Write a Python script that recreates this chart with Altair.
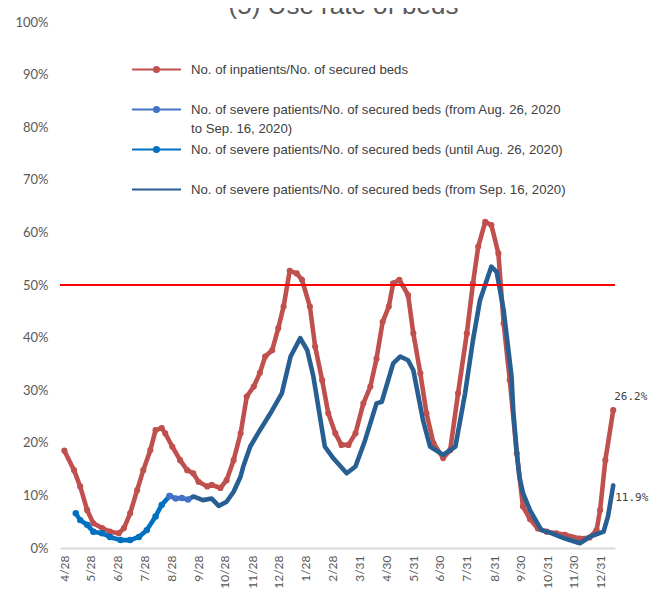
import json
import altair as alt
import pandas as pd

TITLE = "(5) Use rate of beds"

SERIES_KEYS = ["A", "B", "C", "D"]
SERIES_LABELS = [
    ["No. of inpatients/No. of secured beds", ""],
    ["No. of severe patients/No. of secured beds (from Aug. 26, 2020", "to Sep. 16, 2020)"],
    ["No. of severe patients/No. of secured beds (until Aug. 26, 2020)", ""],
    ["No. of severe patients/No. of secured beds (from Sep. 16, 2020)", ""],
]
SERIES_COLORS = ["#C0504D", "#4472C4", "#0070C0", "#275F93"]

THRESHOLD = [50]

TICK_DATES = [
    (2020, 4, 28), (2020, 5, 28), (2020, 6, 28), (2020, 7, 28), (2020, 8, 28),
    (2020, 9, 28), (2020, 10, 28), (2020, 11, 28), (2020, 12, 28), (2021, 1, 28),
    (2021, 2, 28), (2021, 3, 31), (2021, 4, 30), (2021, 5, 31), (2021, 6, 30),
    (2021, 7, 31), (2021, 8, 31), (2021, 9, 30), (2021, 10, 31), (2021, 11, 30),
    (2021, 12, 31),
]
X_DOMAIN = [(2020, 4, 23), (2022, 1, 16)]
Y_TICKS = list(range(0, 101, 10))

# No. of inpatients / No. of secured beds (%)
inpatient_dates = [
    "2020-04-28", "2020-05-09", "2020-05-16", "2020-05-24", "2020-05-31", "2020-06-10",
    "2020-06-19", "2020-06-29", "2020-07-05", "2020-07-12", "2020-07-20", "2020-07-27",
    "2020-08-04", "2020-08-10", "2020-08-17", "2020-08-21", "2020-08-29", "2020-09-07",
    "2020-09-15", "2020-09-22", "2020-09-28", "2020-10-08", "2020-10-13", "2020-10-23",
    "2020-10-30", "2020-11-07", "2020-11-15", "2020-11-22", "2020-11-30", "2020-12-07",
    "2020-12-13", "2020-12-21", "2020-12-28", "2021-01-03", "2021-01-10", "2021-01-18",
    "2021-01-24", "2021-02-02", "2021-02-08", "2021-02-16", "2021-02-23", "2021-03-03",
    "2021-03-10", "2021-03-18", "2021-03-26", "2021-04-04", "2021-04-12", "2021-04-19",
    "2021-04-26", "2021-05-03", "2021-05-08", "2021-05-15", "2021-05-25", "2021-05-31",
    "2021-06-08", "2021-06-15", "2021-06-23", "2021-07-04", "2021-07-12", "2021-07-21",
    "2021-07-31", "2021-08-07", "2021-08-13", "2021-08-21", "2021-08-28", "2021-09-05",
    "2021-09-11", "2021-09-18", "2021-09-26", "2021-10-03", "2021-10-11", "2021-10-20",
    "2021-10-30", "2021-11-10", "2021-11-20", "2021-12-07", "2021-12-18", "2021-12-26",
    "2021-12-30", "2022-01-05", "2022-01-14",
]
inpatient_values = [
    18.5, 14.8, 11.7, 7.2, 4.7, 3.8,
    3.1, 2.8, 3.8, 6.6, 11.0, 14.8,
    18.6, 22.4, 22.8, 21.8, 19.3, 16.7,
    14.8, 14.2, 12.6, 11.7, 12.0, 11.4,
    12.9, 16.7, 21.8, 28.8, 30.7, 33.3,
    36.4, 37.6, 41.8, 45.9, 52.7, 52.2,
    51.0, 45.9, 38.3, 31.9, 25.6, 21.8,
    19.6, 19.6, 21.8, 27.5, 30.7, 36.0,
    43.0, 45.9, 50.3, 51.0, 48.1, 40.8,
    33.2, 25.6, 19.9, 17.1, 18.6, 29.4,
    40.8, 50.3, 57.3, 62.0, 61.4, 56.0,
    42.7, 31.9, 18.0, 7.9, 5.5, 3.7,
    3.1, 2.8, 2.5, 1.8, 2.0, 3.4,
    7.2, 16.7, 26.2,
]

# No. of severe patients / No. of secured beds (until Aug. 26, 2020)
severe_early_dates = [
    "2020-05-11", "2020-05-16", "2020-05-24", "2020-05-31", "2020-06-10", "2020-06-19",
    "2020-07-01", "2020-07-12", "2020-07-22", "2020-07-31", "2020-08-10", "2020-08-17",
    "2020-08-26",
]
severe_early_values = [6.6, 5.3, 4.4, 3.1, 2.8, 2.1, 1.5, 1.5, 2.1, 3.4, 6.0, 8.2, 9.9]

# (from Aug. 26, 2020 to Sep. 16, 2020)
severe_mid_dates = ["2020-08-26", "2020-09-02", "2020-09-09", "2020-09-16"]
severe_mid_values = [9.9, 9.4, 9.5, 9.2]

# (from Sep. 16, 2020)
severe_late_dates = [
    "2020-09-16", "2020-09-22", "2020-10-03", "2020-10-13", "2020-10-21", "2020-10-30",
    "2020-11-07", "2020-11-15", "2020-11-18", "2020-11-26", "2020-12-07", "2020-12-19",
    "2021-01-01", "2021-01-11", "2021-01-22", "2021-01-30", "2021-02-06", "2021-02-19",
    "2021-03-01", "2021-03-16", "2021-03-26", "2021-04-06", "2021-04-19", "2021-04-25",
    "2021-05-08", "2021-05-16", "2021-05-25", "2021-05-31", "2021-06-11", "2021-06-19",
    "2021-07-04", "2021-07-18", "2021-07-29", "2021-08-07", "2021-08-15", "2021-08-28",
    "2021-09-03", "2021-09-11", "2021-09-20", "2021-09-22", "2021-09-26", "2021-09-29",
    "2021-10-03", "2021-10-11", "2021-10-24", "2021-11-05", "2021-11-20", "2021-12-07",
    "2021-12-18", "2022-01-03", "2022-01-08", "2022-01-14",
]
severe_late_values = [
    9.2, 9.8, 9.1, 9.4, 8.0, 8.8,
    10.7, 13.6, 15.5, 19.3, 22.4, 25.6,
    29.4, 36.4, 39.9, 37.6, 32.6, 19.3,
    17.0, 14.2, 15.5, 20.5, 27.5, 27.8,
    35.1, 36.4, 35.7, 33.8, 24.3, 19.3,
    17.7, 19.3, 29.4, 39.5, 47.1, 53.5,
    52.5, 45.2, 32.6, 26.0, 18.0, 13.5,
    10.5, 7.2, 3.4, 2.8, 1.8, 0.9,
    2.1, 3.1, 6.0, 11.9,
]

frames = []
for key, dates, vals in [
    ("A", inpatient_dates, inpatient_values),
    ("C", severe_early_dates, severe_early_values),
    ("B", severe_mid_dates, severe_mid_values),
    ("D", severe_late_dates, severe_late_values),
]:
    f = pd.DataFrame({"date": dates, "value": vals, "series": key})
    f["last"] = False
    f.loc[f.index[-1], "last"] = True
    frames.append(f)
df = pd.concat(frames, ignore_index=True)


def dt(t):
    return alt.DateTime(year=t[0], month=t[1], date=t[2], utc=True)


label_expr = ""
for k, lab in zip(SERIES_KEYS[:-1], SERIES_LABELS[:-1]):
    label_expr += f"datum.label == '{k}' ? {json.dumps(lab)} : "
label_expr += json.dumps(SERIES_LABELS[-1])

DOT_PATH = ("M-3.5,0L3.5,0"
            "M-0.15,0a0.15,0.15 0 1,0 0.3,0a0.15,0.15 0 1,0 -0.3,0"
            "M-0.35,0a0.35,0.35 0 1,0 0.7,0a0.35,0.35 0 1,0 -0.7,0")
LINE_PATH = "M-3.5,0L3.5,0"
LEGEND_SHAPES = [DOT_PATH, DOT_PATH, DOT_PATH, LINE_PATH]

color_scale = alt.Scale(domain=SERIES_KEYS, range=SERIES_COLORS)

legend = alt.Legend(
    title=None,
    orient="none",
    legendX=88,
    legendY=39,
    direction="vertical",
    labelExpr=label_expr,
    labelLimit=800,
    labelFont="Liberation Sans",
    labelFontSize=13.2,
    labelColor="#404040",
    labelBaseline="middle",
    labelOffset=26,
    rowPadding=6,
    padding=0,
    symbolSize=196,
    symbolStrokeWidth=2.2,
    symbolFillColor="transparent",
)

x_enc = alt.X(
    "date:T",
    scale=alt.Scale(type="utc", domain=[dt(X_DOMAIN[0]), dt(X_DOMAIN[1])]),
    axis=alt.Axis(
        title=None,
        values=[dt(t) for t in TICK_DATES],
        labelExpr="utcFormat(datum.value, '%-m/%-d')",
        labelAngle=270,
        labelAlign="right",
        labelBaseline="middle",
        labelFont="Lato",
        labelFontSize=12,
        labelColor="#595959",
        labelPadding=7,
        ticks=False,
        tickSize=0,
        grid=False,
        domain=True,
        domainColor="#D9D9D9",
        domainWidth=2,
        labelOverlap=False,
    ),
)
y_enc = alt.Y(
    "value:Q",
    scale=alt.Scale(domain=[0, 100]),
    axis=alt.Axis(
        title=None,
        values=Y_TICKS,
        labelExpr="datum.value + '%'",
        labelFont="Lato",
        labelFontSize=13,
        labelColor="#595959",
        labelPadding=12,
        ticks=False,
        tickSize=0,
        grid=False,
        domain=False,
    ),
)

base = alt.Chart(df).encode(x=x_enc, y=y_enc)

red_points = base.transform_filter("datum.series == 'A'").mark_circle(
    size=38, opacity=1, color=SERIES_COLORS[0]
)

lines = base.mark_line(strokeWidth=4.6, strokeCap="round", strokeJoin="round").encode(
    color=alt.Color("series:N", scale=color_scale, legend=None),
    detail="series:N",
    order=alt.Order("date:T"),
)

blue_points = base.transform_filter("datum.series == 'B' || datum.series == 'C'").mark_circle(
    size=42, opacity=1
).encode(color=alt.Color("series:N", scale=color_scale, legend=None))

legend_layer = base.transform_filter("false").mark_point(
    filled=False, strokeWidth=2.2, opacity=1
).encode(
    color=alt.Color("series:N", scale=color_scale, legend=legend),
    shape=alt.Shape("series:N", scale=alt.Scale(domain=SERIES_KEYS, range=LEGEND_SHAPES), legend=legend),
)

red_label = base.transform_filter("datum.series == 'A' && datum.last").transform_calculate(
    lbl="format(datum.value, '.1f') + '%'"
).mark_text(align="left", baseline="middle", dx=1, dy=-13, font="DejaVu Sans Mono",
            fontSize=11, color="#404040").encode(text="lbl:N")

blue_label = base.transform_filter("datum.series == 'D' && datum.last").transform_calculate(
    lbl="format(datum.value, '.1f') + '%'"
).mark_text(align="left", baseline="middle", dx=2, dy=13, font="DejaVu Sans Mono",
            fontSize=11, color="#404040").encode(text="lbl:N")

rule = alt.Chart(pd.DataFrame({"level": THRESHOLD})).mark_rule(
    color="#FF0000", strokeWidth=2
).encode(y=alt.Y("level:Q", scale=alt.Scale(domain=[0, 100])))

chart = alt.layer(
    red_points, lines, blue_points, legend_layer, red_label, blue_label, rule
).resolve_legend(
    color="independent", shape="independent"
).properties(
    width=555,
    height=526,
    padding={"left": 52, "top": 14, "right": 34, "bottom": 42},
    autosize=alt.AutoSizeParams(type="none"),
    title=alt.TitleParams(
        TITLE, fontSize=26, font="Liberation Sans", color="#595959", fontWeight="normal",
        anchor="middle", dx=6, offset=0, dy=24, baseline="alphabetic",
    ),
).configure(
    background="white", style={"guide-label": {"lineHeight": 19}}
).configure_view(stroke=None)

chart.save("out.html", embed_options={"renderer": "svg", "actions": False})
